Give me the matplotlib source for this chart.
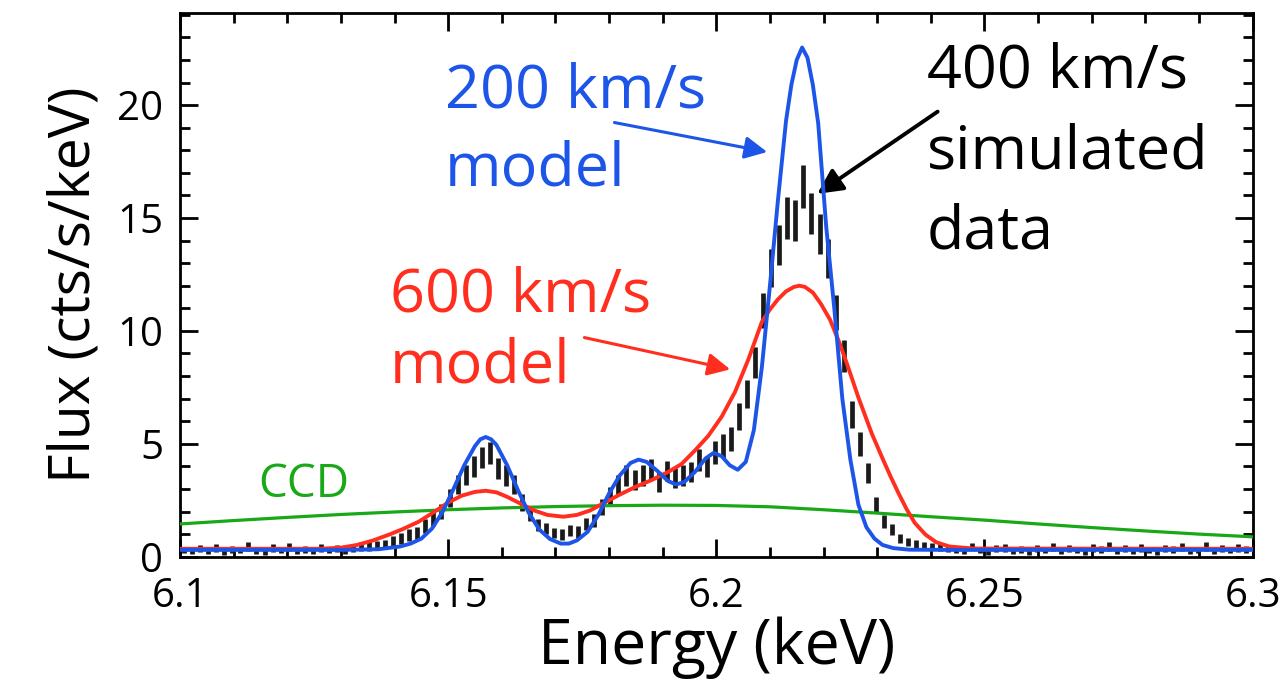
import numpy as np
import matplotlib
matplotlib.use("Agg")
import matplotlib.pyplot as plt
from matplotlib.ticker import MultipleLocator

plt.rcParams['font.family'] = ['Open Sans', 'DejaVu Sans']

# simulated 400 km/s data (bins of 1.5 eV starting at 6.1 keV)
bin_start = 6.1
bin_width = 0.0015
data_flux = [0.30, 0.25, 0.35, 0.28, 0.40, 0.22, 0.33, 0.30, 0.45, 0.25, 0.20, 0.38,
             0.30, 0.42, 0.27, 0.33, 0.25, 0.40, 0.30, 0.35, 0.28, 0.40, 0.45,
             0.45, 0.50, 0.55, 0.70, 0.80, 0.95, 1.05, 1.35, 1.70, 2.00, 2.60, 3.20,
             3.60, 4.00, 4.40, 4.60, 3.90, 3.60, 3.20, 2.40, 1.90, 1.40, 1.25, 1.05,
             1.00, 1.15, 1.10, 1.45, 1.60, 2.20, 2.70, 3.20, 3.60, 3.40, 3.60, 3.85,
             3.30, 3.80, 3.50, 3.60, 3.75, 4.30, 4.00, 4.60, 4.90, 5.20, 6.20, 7.20,
             8.60, 10.9, 12.8, 13.8, 15.0, 14.9, 16.4, 15.2, 14.3, 13.2, 10.8, 8.90,
             6.30, 5.00, 3.70, 2.30, 1.55, 1.20, 0.80, 0.65, 0.55, 0.50, 0.45,
             0.40, 0.35, 0.30, 0.25, 0.45, 0.30, 0.20, 0.35, 0.40, 0.28, 0.33, 0.22,
             0.38, 0.30, 0.42, 0.25, 0.35, 0.30, 0.20, 0.40, 0.32, 0.45, 0.28, 0.35,
             0.25, 0.40, 0.30, 0.22, 0.38, 0.33, 0.42, 0.28, 0.30, 0.45, 0.25, 0.35,
             0.30, 0.40, 0.33]
data_err = [0.15, 0.14, 0.16, 0.15, 0.17, 0.13, 0.16, 0.15, 0.18, 0.14, 0.13, 0.17,
            0.15, 0.17, 0.14, 0.16, 0.14, 0.17, 0.15, 0.16, 0.15, 0.17, 0.18,
            0.18, 0.19, 0.20, 0.22, 0.24, 0.26, 0.27, 0.30, 0.33, 0.35, 0.38, 0.42,
            0.44, 0.46, 0.48, 0.50, 0.46, 0.45, 0.42, 0.37, 0.33, 0.28, 0.26, 0.24,
            0.24, 0.25, 0.25, 0.28, 0.30, 0.35, 0.39, 0.42, 0.45, 0.44, 0.45, 0.46,
            0.43, 0.46, 0.44, 0.45, 0.46, 0.49, 0.47, 0.51, 0.52, 0.54, 0.59, 0.63,
            0.69, 0.78, 0.84, 0.87, 0.92, 0.91, 0.95, 0.92, 0.89, 0.86, 0.78, 0.70,
            0.59, 0.52, 0.45, 0.36, 0.30, 0.26, 0.21, 0.19, 0.18, 0.17, 0.17,
            0.16, 0.15, 0.14, 0.13, 0.17, 0.15, 0.13, 0.16, 0.17, 0.14, 0.15, 0.13,
            0.16, 0.15, 0.17, 0.14, 0.16, 0.15, 0.13, 0.17, 0.15, 0.18, 0.14, 0.16,
            0.14, 0.17, 0.15, 0.13, 0.16, 0.15, 0.17, 0.14, 0.15, 0.18, 0.14, 0.16,
            0.15, 0.17, 0.15]

# 200 km/s model
blue_e = [6.100, 6.130, 6.137, 6.141, 6.143, 6.145, 6.147, 6.149, 6.151, 6.153,
          6.155, 6.156, 6.157, 6.158, 6.159, 6.161, 6.163, 6.165, 6.167, 6.169,
          6.171, 6.1725, 6.174, 6.176, 6.178, 6.180, 6.182, 6.184, 6.1855, 6.187,
          6.189, 6.191, 6.1925, 6.194, 6.196, 6.198, 6.1995, 6.201, 6.2025, 6.204,
          6.2055, 6.207, 6.2085, 6.210, 6.2115, 6.213, 6.214, 6.215, 6.216, 6.217,
          6.218, 6.219, 6.2205, 6.222, 6.2235, 6.225, 6.2265, 6.228, 6.2295, 6.231,
          6.233, 6.236, 6.245, 6.300]
blue_f = [0.30, 0.30, 0.33, 0.45, 0.58, 0.80, 1.25, 2.00, 3.00, 4.05,
          4.90, 5.20, 5.30, 5.20, 4.95, 4.05, 2.95, 1.95, 1.20, 0.78,
          0.58, 0.58, 0.72, 1.10, 1.85, 2.80, 3.60, 4.15, 4.30, 4.20,
          3.80, 3.35, 3.20, 3.30, 3.75, 4.35, 4.60, 4.45, 4.05, 3.85,
          4.20, 5.60, 8.40, 12.0, 15.8, 19.3, 20.9, 22.0, 22.55, 22.1,
          20.9, 19.2, 14.6, 11.0, 7.00, 4.30, 2.30, 1.30, 0.80, 0.52,
          0.38, 0.31, 0.30, 0.30]

# 600 km/s model
red_e = [6.100, 6.126, 6.130, 6.133, 6.136, 6.139, 6.1415, 6.1445, 6.1475, 6.150,
         6.1525, 6.155, 6.157, 6.159, 6.161, 6.1635, 6.166, 6.1685, 6.1715, 6.174,
         6.1765, 6.1792, 6.182, 6.185, 6.188, 6.191, 6.1935, 6.196, 6.1985, 6.201,
         6.2035, 6.206, 6.2085, 6.210, 6.2115, 6.213, 6.2145, 6.2155, 6.2165, 6.218,
         6.2195, 6.2212, 6.223, 6.2245, 6.2265, 6.229, 6.231, 6.2325, 6.234, 6.2355,
         6.237, 6.239, 6.241, 6.2435, 6.248, 6.300]
red_f = [0.35, 0.35, 0.40, 0.52, 0.72, 0.98, 1.22, 1.55, 2.00, 2.40,
         2.70, 2.87, 2.92, 2.85, 2.65, 2.35, 2.05, 1.85, 1.77, 1.85,
         2.05, 2.40, 2.75, 3.10, 3.40, 3.75, 4.10, 4.70, 5.35, 6.20,
         7.30, 8.75, 10.4, 10.95, 11.4, 11.75, 11.95, 12.0, 11.95, 11.7,
         11.2, 10.5, 9.45, 8.45, 7.05, 5.45, 4.35, 3.55, 2.80, 2.10,
         1.50, 0.98, 0.64, 0.45, 0.36, 0.35]

# CCD resolution
ccd_e = [6.10, 6.11, 6.12, 6.13, 6.14, 6.15, 6.16, 6.17, 6.18, 6.19, 6.20,
         6.21, 6.22, 6.23, 6.24, 6.25, 6.26, 6.27, 6.28, 6.29, 6.30]
ccd_f = [1.45, 1.60, 1.74, 1.87, 1.98, 2.08, 2.16, 2.22, 2.26, 2.28, 2.27,
         2.21, 2.08, 1.93, 1.77, 1.62, 1.45, 1.29, 1.14, 1.00, 0.88]

BLUE = '#1d55e8'
RED = '#ff2e1f'
GREEN = '#18a818'

fig = plt.figure(figsize=(12.86, 6.95), dpi=100)
ax = fig.add_axes([0.140, 0.199, 0.834, 0.783])

data_e = bin_start + bin_width * (np.arange(len(data_flux)) + 0.5)
ax.errorbar(data_e, data_flux, yerr=data_err, fmt='none', ecolor='#1a1a1a',
            elinewidth=3.4, capsize=0, zorder=2)
ax.plot(ccd_e, ccd_f, color=GREEN, lw=2.3, zorder=3)
ax.plot(red_e, red_f, color=RED, lw=2.8, zorder=4, solid_joinstyle='round')
ax.plot(blue_e, blue_f, color=BLUE, lw=2.8, zorder=5, solid_joinstyle='round')

ax.set_xlim(6.1, 6.3)
ax.set_ylim(0, 24.1)
ax.xaxis.set_major_locator(MultipleLocator(0.05))
ax.xaxis.set_minor_locator(MultipleLocator(0.01))
ax.yaxis.set_major_locator(MultipleLocator(5))
ax.yaxis.set_minor_locator(MultipleLocator(1))
ax.set_xticks([6.1, 6.15, 6.2, 6.25, 6.3])
ax.set_xticklabels(['6.1', '6.15', '6.2', '6.25', '6.3'])
ax.tick_params(which='both', direction='in', top=True, right=True, width=2)
ax.tick_params(which='major', length=13, labelsize=29)
ax.tick_params(axis='x', which='major', pad=14)
ax.tick_params(axis='y', which='major', pad=12)
ax.tick_params(which='minor', length=7)
for s in ax.spines.values():
    s.set_linewidth(2)

ax.set_xlabel('Energy (keV)', fontsize=45, labelpad=0)
ax.set_ylabel('Flux (cts/s/keV)', fontsize=41, labelpad=10)

ax.text(6.1494, 19.9, '200 km/s', color=BLUE, fontsize=44)
ax.text(6.1494, 16.46, 'model', color=BLUE, fontsize=44)
ax.text(6.2392, 20.8, '400 km/s', color='black', fontsize=44)
ax.text(6.2392, 17.2, 'simulated', color='black', fontsize=44)
ax.text(6.2392, 13.67, 'data', color='black', fontsize=44)
ax.text(6.1391, 10.84, '600 km/s', color=RED, fontsize=44)
ax.text(6.1391, 7.7, 'model', color=RED, fontsize=44)
ax.text(6.1145, 2.65, 'CCD', color=GREEN, fontsize=33)

ax.annotate('', xy=(6.210, 17.9), xytext=(6.1805, 19.25),
            arrowprops=dict(arrowstyle='-|>', color=BLUE, lw=2.2, mutation_scale=34))
ax.annotate('', xy=(6.2031, 8.27), xytext=(6.1749, 9.73),
            arrowprops=dict(arrowstyle='-|>', color=RED, lw=2.2, mutation_scale=34))
ax.annotate('', xy=(6.2184, 16.0), xytext=(6.2417, 19.78),
            arrowprops=dict(arrowstyle='-|>', color='black', lw=2.8, mutation_scale=38))

fig.savefig('out.png', dpi=100)
